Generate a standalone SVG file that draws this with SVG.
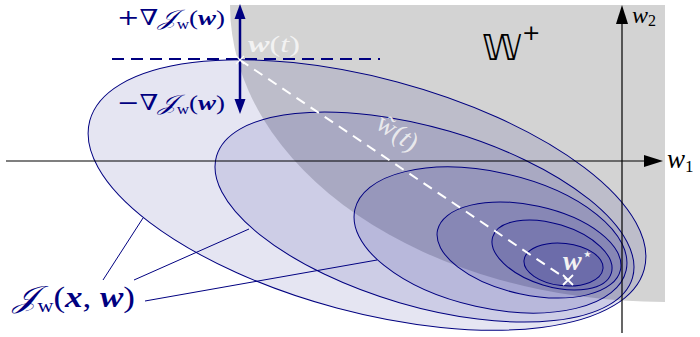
<svg xmlns="http://www.w3.org/2000/svg" width="700" height="337" viewBox="0 0 700 337">
<style>
.ell{fill:#000080;fill-opacity:0.1;stroke:#000080;stroke-width:1}
.lead{stroke:#000080;stroke-width:1;fill:none}
.lbl{fill:#000080;font-family:"DejaVu Serif","Liberation Serif",serif}
.wht{fill:#f2f2f2;font-family:"Liberation Serif","DejaVu Serif",serif}
.ax{stroke:#000;stroke-width:1.2;fill:none}
.bi{font-weight:bold;font-style:italic;font-family:"Liberation Serif",serif}
.it{font-style:italic;font-family:"Liberation Serif",serif}
.rm{font-family:"Liberation Serif",serif}
.sc{font-style:italic;font-family:"DejaVu Sans","DejaVu Serif","Noto Sans",serif}
</style>
<rect width="700" height="337" fill="#fff"/>
<g id="region">
<path d="M230,5 A435,297 0 0 0 665,302 L665,5 Z" fill="#d3d3d3"/>
<text x="482" y="60" font-size="36" font-family="DejaVu Sans,DejaVu Serif,sans-serif" fill="#000">𝕎<tspan font-size="22" dy="-20">+</tspan></text>
</g>
<g id="ellipses">
<ellipse id="e1" class="ell" cx="367" cy="195" rx="287" ry="117" transform="rotate(15 367 195)"/>
<ellipse id="e2" class="ell" cx="424.5" cy="217" rx="216.7" ry="89.3" transform="rotate(16.3 424.5 217)"/>
<ellipse id="e3" class="ell" cx="490.5" cy="240" rx="139" ry="68" transform="rotate(12.6 490.5 240)"/>
<ellipse id="e4" class="ell" cx="529" cy="250" rx="93.6" ry="44.7" transform="rotate(12.2 529 250)"/>
<ellipse id="e5" class="ell" cx="552" cy="255" rx="62" ry="31.3" transform="rotate(17 552 255)"/>
<ellipse id="e6" class="ell" cx="563.5" cy="264.5" rx="39.7" ry="21.2" transform="rotate(6.2 563.5 264.5)"/>
</g>
<g id="axes">
<line class="ax" x1="6" y1="161" x2="646" y2="161"/>
<polygon points="663,161 644,155 644,167" fill="#000"/>
<line class="ax" x1="622" y1="333" x2="622" y2="22"/>
<polygon points="622,5 616,24 628,24" fill="#000"/>
<text x="667" y="168" font-size="27" class="it" fill="#000">w<tspan font-size="17" dy="4" font-style="normal">1</tspan></text>
<text x="632" y="23" font-size="24" class="it" fill="#000">w<tspan font-size="16" dy="3" font-style="normal">2</tspan></text>
</g>
<g id="connectors">
<line x1="112" y1="59" x2="380" y2="59" stroke="#000080" stroke-width="2" stroke-dasharray="12,7"/>
<line x1="240" y1="60" x2="568" y2="280" stroke="#fff" stroke-width="2" stroke-dasharray="10,7"/>
<line x1="240" y1="17" x2="240" y2="101" stroke="#000080" stroke-width="2.5"/>
<polygon points="240,4 234.5,19 245.5,19" fill="#000080"/>
<polygon points="240,114 234.5,99 245.5,99" fill="#000080"/>
<line class="lead" x1="103" y1="280" x2="143" y2="218"/>
<line class="lead" x1="134" y1="280" x2="249" y2="229"/>
<line class="lead" x1="145" y1="301" x2="377" y2="260"/>
</g>
<g id="points">
<path d="M236,56 L244,64 M244,56 L236,64" stroke="#fff" stroke-width="1.2"/>
<path d="M563,275 L573,285 M573,275 L563,285" stroke="#fff" stroke-width="1.8"/>
</g>
<g id="labels">
<text class="lbl" x="117" y="25" font-size="22" textLength="108" lengthAdjust="spacingAndGlyphs">+∇<tspan class="sc">𝒥</tspan><tspan class="rm" font-size="14" dy="4">w</tspan><tspan class="rm" dy="-4">(</tspan><tspan class="bi">w</tspan><tspan class="rm">)</tspan></text>
<text class="lbl" x="117" y="110" font-size="22" textLength="108" lengthAdjust="spacingAndGlyphs">−∇<tspan class="sc">𝒥</tspan><tspan class="rm" font-size="14" dy="4">w</tspan><tspan class="rm" dy="-4">(</tspan><tspan class="bi">w</tspan><tspan class="rm">)</tspan></text>
<text class="wht" x="248" y="52" font-size="24" textLength="52" lengthAdjust="spacingAndGlyphs"><tspan class="bi">w</tspan>(<tspan class="it">t</tspan>)</text>
<text class="wht" x="0" y="0" font-size="27" fill-opacity="0.9" transform="translate(374,127) rotate(34)">w̃(<tspan class="it">t</tspan>)</text>
<text class="wht" x="563" y="270" font-size="28"><tspan class="bi">w</tspan><tspan font-size="18" dy="-10" font-family="DejaVu Sans">⋆</tspan></text>
<text class="lbl" x="13" y="307" font-size="30" textLength="122" lengthAdjust="spacingAndGlyphs"><tspan class="sc">𝒥</tspan><tspan class="rm" font-size="19" dy="5">w</tspan><tspan class="rm" dy="-5">(</tspan><tspan class="bi">x</tspan><tspan class="rm">, </tspan><tspan class="bi">w</tspan><tspan class="rm">)</tspan></text>
</g>
</svg>
